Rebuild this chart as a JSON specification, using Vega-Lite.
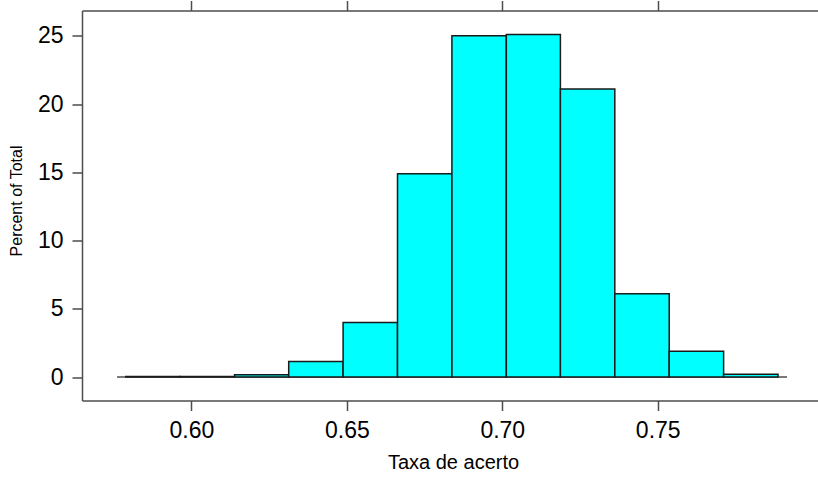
{
  "$schema": "https://vega.github.io/schema/vega-lite/v6.json",
  "autosize": {"type": "none"},
  "padding": {"left": 82, "top": 10.5, "right": 0, "bottom": 77},
  "width": 760,
  "height": 390,
  "background": "white",
  "config": {
    "view": {"stroke": null},
    "font": "Liberation Sans",
    "axis": {
      "domain": true,
      "domainColor": "#4d4d4d",
      "domainWidth": 1.5,
      "grid": false,
      "tickColor": "#4d4d4d",
      "tickWidth": 1.5,
      "tickSize": 10,
      "labelFont": "Liberation Sans",
      "labelColor": "#000000",
      "labelFontSize": 23,
      "titleFont": "Liberation Sans",
      "titleColor": "#000000",
      "titleFontWeight": "normal"
    }
  },
  "datasets": {
    "bins": [
      {"x0": 0.5789, "x1": 0.5964, "pct": 0.05},
      {"x0": 0.5964, "x1": 0.6139, "pct": 0.05},
      {"x0": 0.6139, "x1": 0.6313, "pct": 0.18},
      {"x0": 0.6313, "x1": 0.6488, "pct": 1.14},
      {"x0": 0.6488, "x1": 0.6663, "pct": 4.0},
      {"x0": 0.6663, "x1": 0.6838, "pct": 14.9},
      {"x0": 0.6838, "x1": 0.7013, "pct": 25.0},
      {"x0": 0.7013, "x1": 0.7187, "pct": 25.1},
      {"x0": 0.7187, "x1": 0.7362, "pct": 21.1},
      {"x0": 0.7362, "x1": 0.7537, "pct": 6.1},
      {"x0": 0.7537, "x1": 0.7712, "pct": 1.9},
      {"x0": 0.7712, "x1": 0.7887, "pct": 0.2}
    ],
    "base": [
      {"x0": 0.5761, "x1": 0.7916, "y": 0}
    ]
  },
  "layer": [
    {
      "data": {"name": "base"},
      "mark": {"type": "rule", "color": "#4d4d4d", "strokeWidth": 1.5},
      "encoding": {
        "x": {
          "field": "x0", "type": "quantitative",
          "scale": {"domain": [0.56481, 0.80928], "nice": false, "zero": false},
          "axis": {"orient": "top", "values": [0.6, 0.65, 0.7, 0.75], "labels": false, "title": null}
        },
        "x2": {"field": "x1"},
        "y": {"field": "y", "type": "quantitative"}
      }
    },
    {
      "data": {"name": "bins"},
      "mark": {"type": "bar", "fill": "#00FFFF", "stroke": "#1a1a1a", "strokeWidth": 1.5},
      "encoding": {
        "x": {
          "field": "x0", "type": "quantitative",
          "scale": {"domain": [0.56481, 0.80928], "nice": false, "zero": false},
          "axis": {
            "orient": "bottom",
            "values": [0.6, 0.65, 0.7, 0.75],
            "format": ".2f",
            "labelPadding": 9,
            "title": "Taxa de acerto",
            "titleFontSize": 20,
            "titleBaseline": "alphabetic",
            "titleX": 371,
            "titleY": 67.6
          }
        },
        "x2": {"field": "x1"},
        "y": {
          "field": "pct", "type": "quantitative",
          "scale": {"domain": [-1.714, 26.857], "nice": false, "zero": false},
          "axis": {
            "values": [0, 5, 10, 15, 20, 25],
            "labelPadding": 9,
            "title": "Percent of Total",
            "titleFontSize": 16,
            "titleBaseline": "alphabetic",
            "titleX": -60.3,
            "titleY": 190
          }
        },
        "y2": {"datum": 0}
      }
    }
  ],
  "resolve": {"axis": {"x": "independent"}}
}
